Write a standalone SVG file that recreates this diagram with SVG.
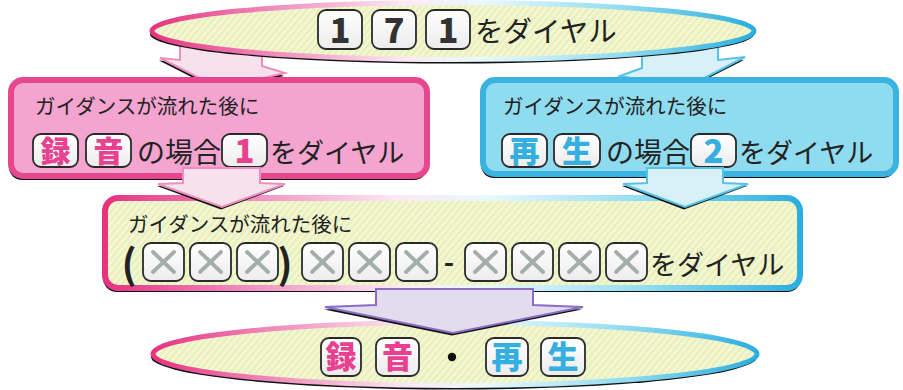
<svg xmlns="http://www.w3.org/2000/svg" width="903" height="390" viewBox="0 0 903 390">
<style>
.jp{font-family:"Noto Sans CJK JP","Noto Sans",sans-serif;fill:#222;}
.t1{font-size:20.5px;}
.t2{font-size:28px;}
.lbl{fill:url(#lblg);stroke:#2a2a2a;stroke-width:1.8;}
.lt{font-family:"Noto Sans CJK JP","Noto Sans",sans-serif;font-weight:900;text-anchor:middle;}
.pk{fill:#e8418f;}
.cy{fill:#35aee0;}
.dk{fill:#333;}
.shadow{fill:#111;}
.x{stroke:#a3aeac;stroke-width:3.8;stroke-linecap:round;}
.ap{fill:#f7e1ec;stroke:#ea8fbe;stroke-width:2;}
.ac{fill:#d8f0f8;stroke:#55c3e8;stroke-width:2;}
.av{fill:#e3dcef;stroke:#8a6ec4;stroke-width:2;}
</style>
<defs>
<pattern id="stripe" width="5" height="5" patternUnits="userSpaceOnUse" patternTransform="rotate(40)">
<rect width="5" height="5" fill="#f3f7d5"/><rect width="2.2" height="5" fill="#e8efb9"/>
</pattern>
<linearGradient id="rim" x1="0" y1="0" x2="1" y2="0">
<stop offset="0" stop-color="#e6337f"/><stop offset="0.2" stop-color="#f08cbd"/><stop offset="0.42" stop-color="#fbe9f3"/><stop offset="0.55" stop-color="#e9f9fd"/><stop offset="0.78" stop-color="#92dcf1"/><stop offset="1" stop-color="#2aaee0"/>
</linearGradient>
<linearGradient id="lblg" x1="0" y1="0" x2="0" y2="1">
<stop offset="0" stop-color="#ffffff"/><stop offset="1" stop-color="#ececec"/>
</linearGradient>
</defs>

<g id="connectors">
<g id="arrow-top-left">
<polygon class="shadow" points="179,42 261,42 261,68 284,76 218,90.5 159,60.5 179,62"/>
<polygon class="ap" points="180,40 262,40 262,66 285,73 219,88 160,58 180,60"/>
</g>
<g id="arrow-top-right">
<polygon class="shadow" points="641,42 717,42 717,62 744,60 684,90.5 619,78.5 641,70"/>
<polygon class="ac" points="642,40 718,40 718,60 745,57 685,88 620,76 642,68"/>
</g>
</g>

<g id="node-top">
<ellipse cx="452" cy="34" rx="302" ry="29.5" class="shadow"/>
<ellipse cx="453" cy="31" rx="301" ry="28.5" fill="url(#stripe)" stroke="url(#rim)" stroke-width="5"/>
<rect class="lbl" x="318" y="10" width="44" height="39" rx="8"/>
<text class="lt dk" x="340" y="43" font-size="34">1</text>
<rect class="lbl" x="372" y="10" width="44" height="39" rx="8"/>
<text class="lt dk" x="394" y="43" font-size="34">7</text>
<rect class="lbl" x="426" y="10" width="44" height="39" rx="8"/>
<text class="lt dk" x="448" y="43" font-size="34">1</text>
<text class="jp" x="475" y="42" font-size="28.5">をダイヤル</text>
</g>

<g id="node-record">
<rect x="9" y="83" width="418" height="97" rx="13" class="shadow"/>
<rect x="11" y="80" width="416" height="96" rx="12" fill="#f3a4cf" stroke="#e6478f" stroke-width="6"/>
<text class="jp t1" x="35" y="114">ガイダンスが流れた後に</text>
<rect class="lbl" x="33" y="134" width="45" height="33" rx="8"/>
<text class="lt pk" x="55.5" y="162" font-size="30">録</text>
<rect class="lbl" x="86" y="134" width="45" height="33" rx="8"/>
<text class="lt pk" x="108.5" y="162" font-size="30">音</text>
<text class="jp t2" x="137" y="163">の場合</text>
<rect class="lbl" x="222" y="134" width="45" height="33" rx="8"/>
<text class="lt pk" x="244.5" y="163" font-size="33">1</text>
<text class="jp" x="270" y="163" font-size="27">をダイヤル</text>
</g>

<g id="node-play">
<rect x="481" y="83" width="415" height="95" rx="13" class="shadow"/>
<rect x="483" y="80" width="413" height="94" rx="12" fill="#8fdbef" stroke="#3bb3e1" stroke-width="6"/>
<text class="jp t1" x="503" y="114">ガイダンスが流れた後に</text>
<rect class="lbl" x="502" y="134" width="45" height="33" rx="8"/>
<text class="lt cy" x="524.5" y="162" font-size="30">再</text>
<rect class="lbl" x="554" y="134" width="46" height="33" rx="8"/>
<text class="lt cy" x="577" y="162" font-size="30">生</text>
<text class="jp t2" x="606" y="163">の場合</text>
<rect class="lbl" x="691" y="134" width="45" height="33" rx="8"/>
<text class="lt cy" x="713.5" y="163" font-size="33">2</text>
<text class="jp" x="739" y="163" font-size="27">をダイヤル</text>
</g>

<g id="node-dial">
<rect x="103" y="201" width="698" height="91" rx="14" class="shadow"/>
<rect x="105" y="198" width="695" height="90" rx="13" fill="url(#stripe)" stroke="url(#rim)" stroke-width="6"/>
<text class="jp t1" x="128" y="232">ガイダンスが流れた後に</text>
<text class="jp" x="129" y="279" font-size="40" font-weight="700" text-anchor="middle">(</text>
<text class="jp" x="285" y="279" font-size="40" font-weight="700" text-anchor="middle">)</text>
<text class="jp" x="449" y="273" font-size="28" font-weight="700" text-anchor="middle">-</text>
<g id="xboxes">
<rect class="lbl" x="143" y="243" width="41" height="38" rx="8"/><path class="x" d="M153,252 L174,272 M174,252 L153,272"/>
<rect class="lbl" x="190" y="243" width="41" height="38" rx="8"/><path class="x" d="M200,252 L221,272 M221,252 L200,272"/>
<rect class="lbl" x="237" y="243" width="41" height="38" rx="8"/><path class="x" d="M247,252 L268,272 M268,252 L247,272"/>
<rect class="lbl" x="302" y="243" width="41" height="38" rx="8"/><path class="x" d="M312,252 L333,272 M333,252 L312,272"/>
<rect class="lbl" x="349" y="243" width="41" height="38" rx="8"/><path class="x" d="M359,252 L380,272 M380,252 L359,272"/>
<rect class="lbl" x="396" y="243" width="41" height="38" rx="8"/><path class="x" d="M406,252 L427,272 M427,252 L406,272"/>
<rect class="lbl" x="465" y="243" width="41" height="38" rx="8"/><path class="x" d="M475,252 L496,272 M496,252 L475,272"/>
<rect class="lbl" x="512" y="243" width="41" height="38" rx="8"/><path class="x" d="M522,252 L543,272 M543,252 L522,272"/>
<rect class="lbl" x="559" y="243" width="41" height="38" rx="8"/><path class="x" d="M569,252 L590,272 M590,252 L569,272"/>
<rect class="lbl" x="606" y="243" width="41" height="38" rx="8"/><path class="x" d="M616,252 L637,272 M637,252 L616,272"/>
</g>
<text class="jp" x="650" y="275" font-size="27">をダイヤル</text>
</g>

<g id="node-result">
<ellipse cx="454" cy="357" rx="303" ry="32.5" class="shadow"/>
<ellipse cx="455" cy="354" rx="302" ry="31.5" fill="url(#stripe)" stroke="url(#rim)" stroke-width="5"/>
<rect class="lbl" x="321" y="338" width="40" height="38" rx="8"/>
<text class="lt pk" x="341" y="368" font-size="31">録</text>
<rect class="lbl" x="376" y="338" width="43" height="38" rx="8"/>
<text class="lt pk" x="397.5" y="368" font-size="31">音</text>
<circle cx="452" cy="357" r="4.2" fill="#111"/>
<rect class="lbl" x="486" y="338" width="42" height="38" rx="8"/>
<text class="lt cy" x="507" y="368" font-size="31">再</text>
<rect class="lbl" x="541" y="338" width="44" height="38" rx="8"/>
<text class="lt cy" x="563" y="368" font-size="31">生</text>
</g>

<g id="connectors-lower">
<g id="arrow-record-dial">
<polygon class="shadow" points="182,171 259,171 259,185 284,186 221,209.5 157,186 182,185"/>
<polygon class="ap" points="183,168 260,168 260,183 285,184 222,207 158,184 183,183"/>
</g>
<g id="arrow-play-dial">
<polygon class="shadow" points="646,171 722,171 722,185 747,186 684,209.5 622,186 646,185"/>
<polygon class="ac" points="647,168 723,168 723,183 748,184 685,207 623,184 647,183"/>
</g>
<g id="arrow-dial-result">
<polygon class="shadow" points="375,292 532,292 532,307 582,309.5 452,335.5 324,309.5 375,307"/>
<polygon class="av" points="376,289 533,289 533,305 583,307 453,333 325,307 376,305"/>
</g>
</g>
</svg>
